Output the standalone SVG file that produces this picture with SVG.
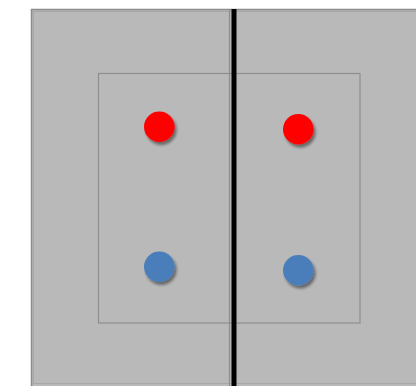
<svg xmlns="http://www.w3.org/2000/svg" width="416" height="386" viewBox="0 0 416 386">
<defs>
<filter id="sh" x="-50%" y="-50%" width="200%" height="200%">
<feGaussianBlur in="SourceAlpha" stdDeviation="1.5"/>
<feOffset dx="1.5" dy="2.5" result="b"/>
<feComponentTransfer><feFuncA type="linear" slope="0.45"/></feComponentTransfer>
<feMerge><feMergeNode/><feMergeNode in="SourceGraphic"/></feMerge>
</filter>
<style>
.red{fill:#ff0000;filter:url(#sh)}
.blue{fill:#4a7ebb;filter:url(#sh)}
.box{fill:none;stroke:#8e8e8e;stroke-width:1.2}
</style>
</defs>
<rect width="416" height="386" fill="#ffffff"/>
<g id="background">
<rect x="31.5" y="9.5" width="400" height="390" fill="#b9b9b9" stroke="#8c8c8c" stroke-width="1.5"/>
<rect x="33.5" y="11.5" width="400" height="372" fill="none" stroke="#a8a8a8" stroke-width="1"/>
</g>
<g id="inner-box">
<rect class="box" x="98.5" y="73.5" width="261.5" height="249.5"/>
</g>
<g id="connectors">
<line x1="229.5" y1="9" x2="229.5" y2="386" stroke="#8e8e8e" stroke-width="1.2"/>
<line x1="234" y1="9" x2="234" y2="386" stroke="#000000" stroke-width="5"/>
</g>
<g id="red-left"><circle class="red" cx="159.3" cy="126.7" r="15.3"/></g>
<g id="red-right"><circle class="red" cx="298.3" cy="129.3" r="15.3"/></g>
<g id="blue-left"><circle class="blue" cx="159.3" cy="266.7" r="15.3"/></g>
<g id="blue-right"><circle class="blue" cx="298.3" cy="270.3" r="15.3"/></g>
</svg>
